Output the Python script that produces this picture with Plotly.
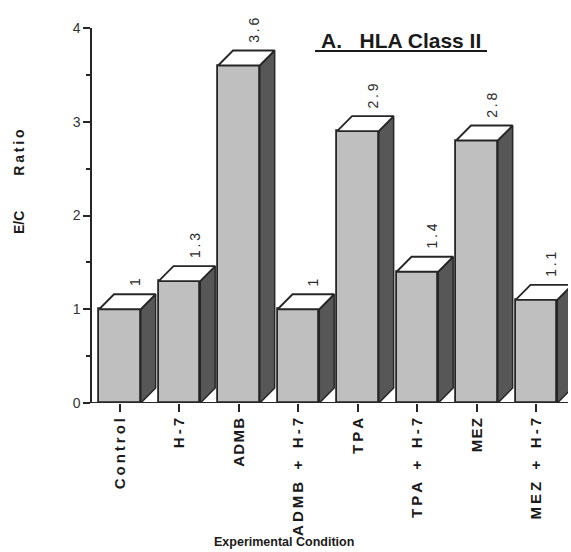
import plotly.graph_objects as go

# ---- data ----
categories = ["Control", "H-7", "ADMB", "ADMB + H-7", "TPA", "TPA + H-7", "MEZ", "MEZ + H-7"]
NB3 = "\u00a0\u00a0\u00a0"
tick_labels = [
    "C\u2009o\u2009n\u2009t\u2009r\u2009o\u2009l",
    "H\u2009-\u20097",
    "A\u200aD\u200aM\u200aB",
    "A\u2009D\u2009M\u2009B" + NB3 + "+" + NB3 + "H\u2009-\u20097",
    "T\u2009P\u2009A",
    "T\u2009P\u2009A" + NB3 + "+" + NB3 + "H\u2009-\u20097",
    "M\u200aE\u200aZ",
    "M\u2009E\u2009Z" + NB3 + "+" + NB3 + "H\u2009-\u20097",
]
ec_ratio = [1.0, 1.3, 3.6, 1.0, 2.9, 1.4, 2.8, 1.1]
value_labels = ["1", "1.3", "3.6", "1", "2.9", "1.4", "2.8", "1.1"]

# ---- style ----
FONT = "Liberation Sans, Arial, Helvetica, sans-serif"
INK = "#262626"
FRONT = "#bfbfbf"
SIDE = "#575757"
TOP = "#ffffff"
BAR_W = 0.70
DX = 0.25   # depth offset in x (category units)
DY = 0.16   # depth offset in y (data units)

xs = list(range(len(categories)))

fig = go.Figure()

# 3D side and top faces
for i, v in zip(xs, ec_ratio):
    x0 = i - BAR_W / 2
    x1 = i + BAR_W / 2
    fig.add_trace(go.Scatter(
        x=[x1, x1 + DX, x1 + DX, x1, x1],
        y=[0, DY, v + DY, v, 0],
        mode="lines", fill="toself", fillcolor=SIDE,
        line=dict(color=INK, width=1.5), hoverinfo="skip", showlegend=False))
    fig.add_trace(go.Scatter(
        x=[x0, x0 + DX, x1 + DX, x1, x0],
        y=[v, v + DY, v + DY, v, v],
        mode="lines", fill="toself", fillcolor=TOP,
        line=dict(color=INK, width=1.8), hoverinfo="skip", showlegend=False))

# front faces
fig.add_trace(go.Bar(
    x=xs, y=ec_ratio, width=BAR_W,
    marker=dict(color=FRONT, line=dict(color=INK, width=1.8)),
    showlegend=False, hoverinfo="skip"))

# value labels
for i, v, t in zip(xs, ec_ratio, value_labels):
    fig.add_annotation(
        x=i + DX, y=v + DY, text="\u2009".join(list(t)), textangle=-90,
        showarrow=False, xanchor="center", yanchor="bottom", yshift=6,
        font=dict(family=FONT, size=14, color="#2a2a2a"))

# titles
fig.add_annotation(
    xref="paper", yref="paper", x=(401 - 92) / 476, y=(403 - 40) / 375,
    text="<b>A.\u00a0\u00a0\u00a0HLA Class II</b>", showarrow=False,
    xanchor="center", yanchor="middle",
    font=dict(family=FONT, size=21, color="#1a1a1a"))
fig.add_annotation(
    xref="paper", yref="paper", x=(19 - 92) / 476, y=(403 - 182) / 375,
    text="<b>E/C" + "\u00a0" * 9 + "R\u2009a\u2009t\u2009i\u2009o</b>", textangle=-90, showarrow=False,
    xanchor="center", yanchor="middle",
    font=dict(family=FONT, size=14, color="#1a1a1a"))
fig.add_annotation(
    xref="paper", yref="paper", x=(284 - 92) / 476, y=(403 - 542) / 375,
    text="<b>Experimental Condition</b>", showarrow=False,
    xanchor="center", yanchor="middle",
    font=dict(family=FONT, size=12.5, color="#1a1a1a"))

# underline of title and x-axis baseline
fig.add_shape(type="line", xref="paper", yref="paper",
              x0=(315 - 92) / 476, x1=(487 - 92) / 476,
              y0=(403 - 51) / 375, y1=(403 - 51) / 375,
              line=dict(color="#1a1a1a", width=2))
fig.add_shape(type="line", xref="paper", yref="y",
              x0=(83 - 92) / 476, x1=1.0, y0=0, y1=0,
              line=dict(color=INK, width=2.2), layer="above")

fig.update_layout(
    width=571, height=552,
    margin=dict(l=92, r=3, t=28, b=149),
    paper_bgcolor="white", plot_bgcolor="white",
    bargap=0,
    xaxis=dict(
        range=[-0.47, 7.53], tickmode="array", tickvals=xs, ticktext=tick_labels,
        tickangle=-90, ticks="outside", ticklen=8, tickwidth=1.5, tickcolor=INK,
        showline=False, showgrid=False, zeroline=False,
        tickfont=dict(family=FONT, size=15, color="#1a1a1a", weight="bold")),
    yaxis=dict(
        range=[0, 4], tickmode="array", tickvals=[0, 1, 2, 3, 4],
        ticks="outside", ticklen=7, tickwidth=1.5, tickcolor=INK,
        minor=dict(tickmode="array", tickvals=[0.5, 1.5, 2.5, 3.5], ticks="outside",
                   ticklen=4, tickwidth=1.5, tickcolor=INK, showgrid=False),
        showline=True, linewidth=1.5, linecolor=INK,
        showgrid=False, zeroline=False,
        tickfont=dict(family=FONT, size=14, color="#333333")),
)

fig.write_html("out.html")
